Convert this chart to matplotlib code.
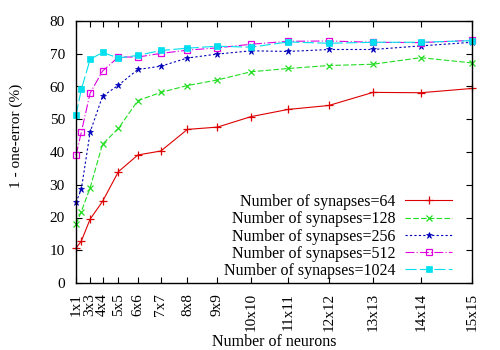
import numpy as np
import matplotlib
matplotlib.use("Agg")
import matplotlib.pyplot as plt

plt.rcParams['font.family'] = ['Liberation Serif', 'DejaVu Serif']
plt.rcParams['font.size'] = 11

# grid side length n -> n*n neurons
sides = [1, 2, 3, 4, 5, 6, 7, 8, 9, 10, 11, 12, 13, 14, 15]
tick_sides = [1, 3, 4, 5, 6, 7, 8, 9, 10, 11, 12, 13, 14, 15]
tick_labels = ['%dx%d' % (n, n) for n in tick_sides]

syn64 = [10.6, 12.8, 19.5, 24.9, 34.0, 39.1, 40.3, 46.9, 47.6, 50.8, 53.0, 54.2, 58.2, 58.1, 59.4]
syn128 = [18.0, 21.8, 29.1, 42.4, 47.2, 55.7, 58.2, 60.3, 62.0, 64.5, 65.5, 66.4, 66.8, 68.8, 67.2]
syn256 = [24.6, 28.6, 46.1, 57.0, 60.4, 65.2, 66.2, 68.7, 69.9, 70.9, 70.7, 71.3, 71.3, 72.4, 73.5]
syn512 = [39.0, 46.0, 58.0, 64.7, 69.0, 69.0, 70.1, 71.1, 71.8, 72.9, 73.8, 73.9, 73.5, 73.4, 74.1]
syn1024 = [51.2, 59.1, 68.3, 70.4, 68.7, 69.5, 71.0, 71.7, 72.3, 72.0, 73.6, 73.2, 73.5, 73.5, 74.0]

x = np.array(sides) ** 2

fig = plt.figure(figsize=(5, 3.5), dpi=100)
ax = fig.add_axes([76 / 500, 67 / 350, 396 / 500, 262 / 350])

ax.plot(x, syn64, color='#dd0000', lw=0.8, ls='-', marker='+', ms=6, mew=0.9,
        clip_on=False, label='Number of synapses=64')
ax.plot(x, syn128, color='#22dd22', lw=0.8, ls=(0, (5, 2)), marker='x', ms=4, mew=0.9,
        clip_on=False, label='Number of synapses=128')
ax.plot(x, syn256, color='#0000bb', lw=0.8, ls=(0, (2, 2)), marker='*', ms=5, mew=0.5,
        clip_on=False, label='Number of synapses=256')
ax.plot(x, syn512, color='#e000e0', lw=0.8, ls=(0, (8, 2, 1, 2)), marker='s', ms=4.5,
        mfc='none', mew=0.9, clip_on=False, label='Number of synapses=512')
ax.plot(x, syn1024, color='#00e0ee', lw=0.8, ls=(0, (10, 3)), marker='s', ms=4.5,
        mew=0.5, clip_on=False, label='Number of synapses=1024')

ax.set_xlim(1, 225)
ax.set_ylim(0, 80)
ax.set_xticks(np.array(tick_sides) ** 2)
ax.set_xticklabels(tick_labels, rotation=90)
ax.set_yticks(np.arange(0, 81, 10))
ax.tick_params(direction='in', top=True, right=True, length=4, width=0.8)
ax.tick_params(axis='x', pad=7)
ax.tick_params(axis='y', pad=8)
for sp in ax.spines.values():
    sp.set_linewidth(1.0)

ax.set_xlabel('Number of neurons', fontsize=11.5, labelpad=2)
ax.set_ylabel('1 - one-error (%)', labelpad=12)
ax.yaxis.set_label_coords(-0.135, 0.56)

ax.legend(loc='lower right', bbox_to_anchor=(0.949, 0.015), frameon=False,
          fontsize=11.5, markerfirst=False, handlelength=2.9, handletextpad=0.65,
          labelspacing=0.08, borderpad=0, borderaxespad=0)

fig.savefig('out.png', dpi=100)
